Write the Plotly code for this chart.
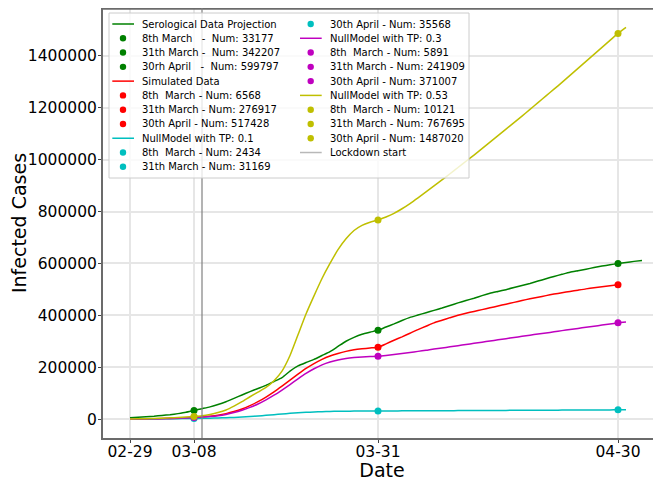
import plotly.graph_objects as go
import pandas as pd

# ---------------- data ----------------
start_date = "2020-02-29"

# daily values, day 0 = 2020-02-29
sero_vals = [5000, 7000, 9000, 11000, 14000, 17000, 21000, 26000, 33177, 40000,
             47000, 56000, 67000, 80000, 93000, 106000, 118000, 130000, 145000, 160000,
             185000, 205000, 218000, 230000, 245000, 260000, 280000, 300000, 315000, 327000,
             335000, 342207, 355000, 367000, 380000, 392000, 401000, 410000, 419000, 428000,
             438000, 448000, 457000, 466000, 476000, 485000, 492000, 499000, 507000, 515000,
             523000, 532000, 541000, 550000, 558000, 566000, 572000, 578000, 584000, 590000,
             595000, 599797, 604000, 608000, 611500]

sim_vals = [0, 300, 700, 1200, 1800, 2600, 3600, 5000, 6568, 8500,
            11000, 15000, 21000, 29000, 39000, 52000, 67000, 85000, 105000, 127000,
            150000, 173000, 195000, 214000, 230000, 243000, 253000, 261000, 267000, 271000,
            274000, 276917, 290000, 304000, 317000, 331000, 345000, 358000, 371000, 381000,
            391000, 400000, 408000, 415000, 422000, 429000, 436000, 443000, 450000, 457000,
            464000, 470000, 476000, 482000, 487000, 492000, 497000, 502000, 506000, 510000,
            514000, 517428]

tp01_vals = [0, 200, 400, 700, 1000, 1300, 1700, 2000, 2434, 2900,
             3500, 4300, 5300, 6500, 8000, 9800, 12000, 14500, 17000, 19500,
             22000, 24200, 26000, 27500, 28600, 29400, 30000, 30400, 30700, 30900,
             31050, 31169, 31310, 31460, 31600, 31750, 31900, 32040, 32190, 32340,
             32480, 32630, 32780, 32920, 33070, 33220, 33360, 33510, 33660, 33800,
             33950, 34100, 34240, 34390, 34540, 34680, 34830, 34980, 35120, 35270,
             35420, 35568, 35700]

tp03_vals = [0, 300, 600, 1000, 1500, 2200, 3100, 4300, 5891, 7500,
             9700, 13000, 18000, 25000, 34000, 45000, 58000, 74000, 92000, 112000,
             133000, 155000, 176000, 194000, 209000, 220000, 228000, 233500, 237000, 239500,
             241000, 241909, 245000, 249000, 253000, 257000, 261000, 265000, 270000, 274000,
             278500, 283000, 287500, 292000, 296500, 301000, 305500, 310000, 314500, 319000,
             323500, 328000, 332000, 336500, 341000, 345000, 349500, 354000, 358000, 362500,
             366500, 371007, 374500]

tp053_vals = [0, 800, 1600, 2500, 3500, 4700, 6000, 7800, 10121, 13000,
              18000, 25000, 35000, 50000, 67000, 86000, 104000, 122000, 148000, 185000,
              245000, 325000, 405000, 475000, 542000, 600000, 653000, 695000, 727000, 747000,
              759000, 767695, 779000, 793000, 811000, 831000, 853000, 876000, 899000, 922000,
              946000, 970000, 994000, 1018000, 1043000, 1068000, 1093000, 1118000, 1143000, 1168000,
              1194000, 1220000, 1246000, 1272000, 1298000, 1325000, 1352000, 1379000, 1406000, 1433000,
              1460000, 1487020, 1510000]

marker_dates = ["2020-03-08", "2020-03-31", "2020-04-30"]
sero_pts = [33177, 342207, 599797]
sim_pts = [6568, 276917, 517428]
tp01_pts = [2434, 31169, 35568]
tp03_pts = [5891, 241909, 371007]
tp053_pts = [10121, 767695, 1487020]

lockdown_date = "2020-03-09"

xtick_vals = ["2020-02-29", "2020-03-08", "2020-03-31", "2020-04-30"]
xtick_text = ["02-29", "03-08", "03-31", "04-30"]
ytick_vals = [0, 200000, 400000, 600000, 800000, 1000000, 1200000, 1400000]
ytick_text = ["0", "200000", "400000", "600000", "800000", "1000000", "1200000", "1400000"]

NB = "\u00a0"
series_names = ["Serological Data Projection", "Simulated Data",
                "NullModel with TP: 0.1", "NullModel with TP: 0.3", "NullModel with TP: 0.53"]
point_labels = [
    ["8th March" + NB*3 + "-" + NB*2 + "Num: 33177",
     "31th March -" + NB*2 + "Num: 342207",
     "30rh April" + NB*3 + "-" + NB*2 + "Num: 599797"],
    ["8th" + NB*2 + "March - Num: 6568", "31th March - Num: 276917", "30th April - Num: 517428"],
    ["8th" + NB*2 + "March - Num: 2434", "31th March - Num: 31169", "30th April - Num: 35568"],
    ["8th" + NB*2 + "March - Num: 5891", "31th March - Num: 241909", "30th April - Num: 371007"],
    ["8th" + NB*2 + "March - Num: 10121", "31th March - Num: 767695", "30th April - Num: 1487020"],
]
lockdown_label = "Lockdown start"

colors = ["#008000", "#ff0000", "#00bfbf", "#bf00bf", "#bfbf00"]
all_vals = [sero_vals, sim_vals, tp01_vals, tp03_vals, tp053_vals]
all_pts = [sero_pts, sim_pts, tp01_pts, tp03_pts, tp053_pts]

# ---------------- figure ----------------
# the page adds an 8px body margin, so the figure is 8px smaller and
# all positions below are given in page pixels
OFF = 8
PAGE_W, PAGE_H = 661, 481
W, H = PAGE_W - OFF, PAGE_H - OFF
PL, PR, PT, PB = 103, 661, 8, 438      # plot area in page pixels
L, R, T, B = PL - OFF, PAGE_W - PR, PT - OFF, PAGE_H - PB
pw, ph = PR - PL, PB - PT

def pxx(x):
    return (x - PL) / pw

def pxy(y):
    return (PB - y) / ph

start = pd.Timestamp(start_date)
fig = go.Figure()
for vals, pts, col, name in zip(all_vals, all_pts, colors, series_names):
    xs = [start + pd.Timedelta(days=i) for i in range(len(vals))]
    fig.add_trace(go.Scatter(x=xs, y=vals, mode="lines",
                             line=dict(color=col, width=1.5, shape="spline", smoothing=0.5),
                             name=name, showlegend=False))
    fig.add_trace(go.Scatter(x=marker_dates, y=pts, mode="markers",
                             marker=dict(color=col, size=7), showlegend=False))

shapes = []
# top spine
shapes.append(dict(type="line", xref="paper", yref="paper", x0=0, x1=1, y0=pxy(8.8), y1=pxy(8.8),
                   line=dict(color="#6b6b6b", width=2), layer="above"))
# lockdown line
shapes.append(dict(type="line", xref="x", yref="paper", x0=lockdown_date, x1=lockdown_date,
                   y0=0, y1=1, line=dict(color="#808080", width=1.2), layer="above"))
# legend box
shapes.append(dict(type="rect", xref="paper", yref="paper",
                   x0=pxx(109), x1=pxx(469), y0=pxy(178), y1=pxy(13),
                   fillcolor="rgba(255,255,255,0.8)", line=dict(color="#cccccc", width=1),
                   layer="above"))

entries = []
for col, name, labs in zip(colors, series_names, point_labels):
    entries.append(("line", col, name))
    for lab in labs:
        entries.append(("dot", col, lab))
entries.append(("line", "#b8b8b8", lockdown_label))

cols = [(112.3, 134.0, 123.0, 141.0), (300.0, 321.7, 310.7, 329.3)]
row0, dy = 24.0, 14.28
annotations = []
for i, (kind, col, lab) in enumerate(entries):
    c = 0 if i < 11 else 1
    r = i if i < 11 else i - 11
    yy = row0 + dy * r
    lx0, lx1, mx, tx = cols[c]
    if kind == "line":
        shapes.append(dict(type="line", xref="paper", yref="paper", x0=pxx(lx0), x1=pxx(lx1),
                           y0=pxy(yy), y1=pxy(yy), line=dict(color=col, width=1.5), layer="above"))
    else:
        rr = 3.2
        shapes.append(dict(type="circle", xref="paper", yref="paper",
                           x0=pxx(mx - rr), x1=pxx(mx + rr), y0=pxy(yy + rr), y1=pxy(yy - rr),
                           fillcolor=col, line=dict(color=col, width=0), layer="above"))
    annotations.append(dict(xref="paper", yref="paper", x=pxx(tx), y=pxy(yy), text=lab,
                            showarrow=False, xanchor="left", yanchor="middle", borderpad=0,
                            font=dict(size=10, color="#000000", family="DejaVu Sans")))

x_range = [str(start + pd.Timedelta(hours=-81)), str(start + pd.Timedelta(hours=1593))]

fig.update_layout(
    width=W, height=H,
    margin=dict(l=L, r=R, t=T, b=B, pad=0),
    paper_bgcolor="white", plot_bgcolor="white",
    font=dict(family="DejaVu Sans", color="#000000"),
    showlegend=False,
    shapes=shapes,
    annotations=annotations,
    xaxis=dict(type="date", range=x_range, tickvals=xtick_vals, ticktext=xtick_text,
               tickfont=dict(size=15.5), showgrid=True, gridcolor="#e6e6e6", gridwidth=1.5,
               showline=True, linecolor="#6b6b6b", linewidth=2,
               ticks="outside", ticklen=3, tickcolor="#444", tickwidth=1,
               ticklabelstandoff=-5,
               title=dict(text="Date", font=dict(size=19), standoff=5),
               zeroline=False, automargin=False),
    yaxis=dict(range=[-73000, 1585000], tickvals=ytick_vals, ticktext=ytick_text,
               tickfont=dict(size=15.5), showgrid=True, gridcolor="#e6e6e6", gridwidth=1.5,
               showline=True, linecolor="#6b6b6b", linewidth=2,
               ticks="outside", ticklen=3, tickcolor="#444", tickwidth=1,
               ticklabelstandoff=-2,
               title=dict(text="Infected Cases", font=dict(size=19), standoff=15),
               zeroline=False, automargin=False),
)

fig.write_html("out.html")
